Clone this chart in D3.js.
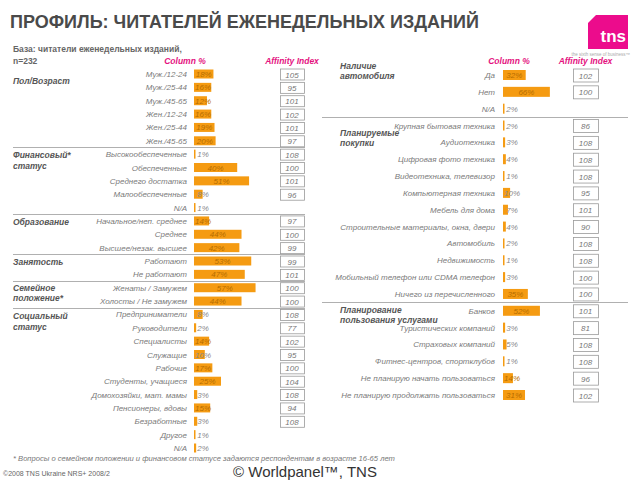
<!DOCTYPE html>
<html><head><meta charset="utf-8">
<script src="https://cdn.jsdelivr.net/npm/d3@7"></script>
<style>body{margin:0;background:#fff}svg{display:block;font-family:"Liberation Sans",Arial,sans-serif}</style>
</head><body><svg id="c" width="640" height="480"></svg>
<script>
// ---- data ----
const leftLabels = ["Муж./12-24","Муж./25-44","Муж./45-65","Жен./12-24","Жен./25-44","Жен./45-65",
 "Высокообеспеченные","Обеспеченные","Среднего достатка","Малообеспеченные","N/A",
 "Начальное/неп. среднее","Среднее","Высшее/незак. высшее",
 "Работают","Не работают",
 "Женаты / Замужем","Холосты / Не замужем",
 "Предприниматели","Руководители","Специалисты","Служащие","Рабочие","Студенты, учащиеся",
 "Домохозяйки, мат. мамы","Пенсионеры, вдовы","Безработные","Другое","N/A"];
const leftPct = [18,16,12,16,19,20, 1,40,51,8,1, 14,44,42, 53,47, 57,44, 8,2,14,10,17,25,3,15,3,1,2];
const leftAff = [105,95,101,102,101,97, 108,100,101,96,null, 97,100,99, 99,101, 100,100, 108,77,102,95,100,104,108,94,108,null,null];
const leftSections = [
 {title:["Пол/Возраст"], first:0, last:5},
 {title:["Финансовый*","статус"], first:6, last:10},
 {title:["Образование"], first:11, last:13},
 {title:["Занятость"], first:14, last:15},
 {title:["Семейное","положение*"], first:16, last:17},
 {title:["Социальный","статус"], first:18, last:28}];

const rightLabels = ["Да","Нет","N/A",
 "Крупная бытовая техника","Аудиотехника","Цифровая фото техника","Видеотехника, телевизор",
 "Компьютерная техника","Мебель для дома","Строительные материалы, окна, двери","Автомобиль",
 "Недвижимость","Мобильный телефон или CDMA телефон","Ничего из перечисленного",
 "Банков","Туристических компаний","Страховых компаний","Фитнес-центров, спортклубов",
 "Не планирую начать пользоваться","Не планирую продолжать пользоваться"];
const rightPct = [32,66,2, 2,3,4,1,10,7,4,2,1,3,35, 52,3,5,1,14,31];
const rightAff = [102,100,null, 86,108,108,108,95,101,90,108,108,100,100, 101,81,108,108,96,102];
const rightSections = [
 {title:["Наличие","автомобиля"], first:0, last:2},
 {title:["Планируемые","покупки"], first:3, last:13},
 {title:["Планирование","пользования услугами"], first:14, last:19}];

const titleText = "ПРОФИЛЬ: ЧИТАТЕЛЕЙ ЕЖЕНЕДЕЛЬНЫХ ИЗДАНИЙ";
const baseText = ["База: читатели еженедельных изданий,","n=232"];
const footnote = "* Вопросы о семейном положении и финансовом статусе задаются респондентам в возрасте 16-65 лет";

// ---- drawing ----
const svg = d3.select("#c");
const ORANGE = "#f59b12", PINK = "#e4137f", GREY = "#7a7a7a";

svg.append("text").attr("x",10).attr("y",28).attr("font-size",18).attr("font-weight","bold")
  .attr("fill","#4a4a4a").text(titleText);

// logo
const lg = svg.append("g").attr("transform","translate(588,15)");
lg.append("path").attr("d","M8,0 H40 V34 H0 V8 Z").attr("fill","#ec0c8c");
lg.append("text").attr("x",38).attr("y",27).attr("text-anchor","end").attr("font-size",17)
  .attr("font-weight","bold").attr("fill","#fff").text("tns");
svg.append("text").attr("x",630).attr("y",56).attr("text-anchor","end").attr("font-size",4.5)
  .attr("fill","#aaa").text("the sixth sense of business\u2122");

svg.selectAll("text.base").data(baseText).join("text").attr("class","base")
  .attr("x",13).attr("y",(d,i)=>52+i*12).attr("font-size",8.5).attr("font-weight","bold")
  .attr("fill","#666").text(d=>d);

function panel(cfg){
  const {labels,pct,aff,sections} = cfg;
  const y = d3.scalePoint().domain(d3.range(labels.length)).range([cfg.y0,cfg.y1]);
  const x = d3.scaleLinear().domain([0,100]).range([cfg.barX, cfg.barX+cfg.barPer100]);
  const g = svg.append("g");
  g.append("text").attr("x",cfg.colHdrX).attr("y",64).attr("text-anchor","middle").attr("font-size",8.5)
    .attr("font-style","italic").attr("font-weight","bold").attr("fill",PINK).text("Column %");
  g.append("text").attr("x",cfg.affX+cfg.affW/2).attr("y",64).attr("text-anchor","middle").attr("font-size",8.5)
    .attr("font-style","italic").attr("font-weight","bold").attr("fill",PINK).text("Affinity Index");
  sections.slice(1).forEach(s=>{
    const yy = Math.round((y(s.first)+y(s.first-1))/2)+0.5;
    g.append("line").attr("x1",cfg.divX0).attr("x2",cfg.divX1).attr("y1",yy).attr("y2",yy)
      .attr("stroke","#b0b0b0").attr("stroke-width",1);
  });
  sections.forEach((s,k)=>{
    s.title.forEach((t,i)=>{
      g.append("text").attr("x",cfg.secX).attr("y",y(s.first)+cfg.secDy[k]+i*cfg.secLine)
        .attr("font-size",8.5).attr("font-weight","bold").attr("font-style","italic")
        .attr("fill","#555").text(t);
    });
  });
  const rows = g.selectAll("g.row").data(labels.map((l,i)=>({l,i,p:pct[i],a:aff[i]}))).join("g");
  rows.append("text").attr("x",cfg.labelX).attr("y",d=>y(d.i)+3).attr("text-anchor","end")
    .attr("font-size",8).attr("font-style","italic").attr("fill",GREY).text(d=>d.l);
  rows.append("rect").attr("x",x(0)).attr("y",d=>y(d.i)-cfg.barH/2)
    .attr("width",d=>Math.max(1.5,x(d.p)-x(0))).attr("height",cfg.barH).attr("fill",ORANGE);
  rows.append("text").attr("x",d=>x(0)+Math.max((x(d.p)-x(0))/2, 9))
    .attr("y",d=>y(d.i)+3).attr("text-anchor","middle").attr("font-size",8).attr("font-style","italic")
    .attr("fill",d=>d.p>=12?"#b56d00":"#8a8a8a").text(d=>d.p+"%");
  const ag = rows.filter(d=>d.a!=null);
  ag.append("rect").attr("x",cfg.affX+0.5).attr("y",d=>y(d.i)-cfg.affH/2+0.5).attr("width",cfg.affW)
    .attr("height",cfg.affH).attr("fill","#fff").attr("stroke","#9a9a9a").attr("stroke-width",0.8);
  ag.append("text").attr("x",cfg.affX+cfg.affW/2).attr("y",d=>y(d.i)+3.5).attr("text-anchor","middle")
    .attr("font-size",8).attr("font-style","italic").attr("fill","#777").text(d=>d.a);
}

panel({labels:leftLabels,pct:leftPct,aff:leftAff,sections:leftSections,
  y0:74,y1:448,barX:194,barPer100:108,barH:9,labelX:187,affX:280,affW:24,affH:11,
  colHdrX:185,divX0:13,divX1:305,secX:13,secDy:[10,4,4,4,3,5],secLine:10.5});
panel({labels:rightLabels,pct:rightPct,aff:rightAff,sections:rightSections,
  y0:75,y1:395,barX:503,barPer100:71,barH:10,labelX:495,affX:573,affW:25,affH:13,
  colHdrX:509,divX0:322,divX1:628,secX:340,secDy:[-6,10.5,2],secLine:10});

svg.append("text").attr("x",13).attr("y",460.5).attr("font-size",7.6).attr("font-style","italic")
  .attr("fill","#777").text(footnote);
svg.append("text").attr("x",3).attr("y",476).attr("font-size",7).attr("fill","#666").text("©2008 TNS Ukraine  NRS+ 2008/2");
svg.append("text").attr("x",305).attr("y",477).attr("text-anchor","middle").attr("font-size",15)
  .attr("fill","#333").text("© Worldpanel™, TNS");
</script></body></html>
